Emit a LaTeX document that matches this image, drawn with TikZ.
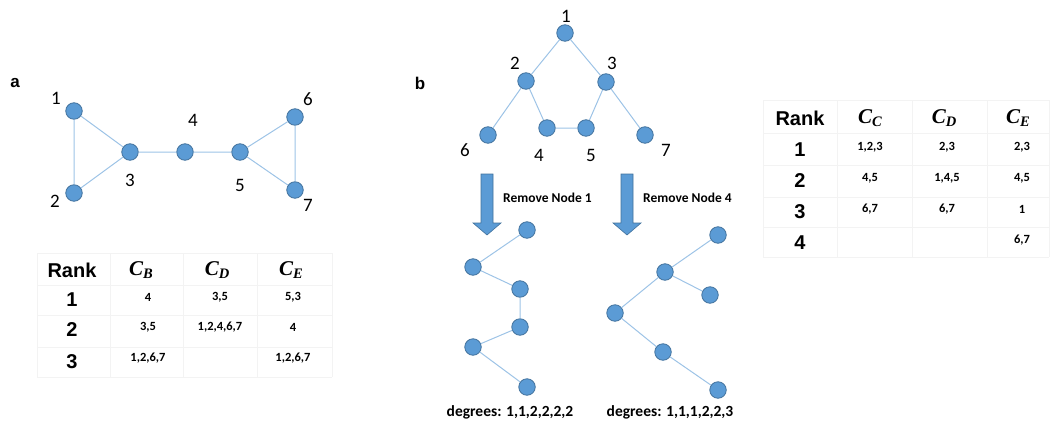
\documentclass[tikz,border=0pt]{standalone}
\usepackage{fontspec}
\setmainfont{Carlito}
\newfontfamily\arialfont{Liberation Sans}
\newfontfamily\cfont{Liberation Serif}
\usetikzlibrary{positioning}
\definecolor{nodeblue}{RGB}{91,155,213}
\definecolor{nodeline}{RGB}{65,113,156}
\definecolor{edgeblue}{RGB}{157,195,230}
\definecolor{gridgray}{RGB}{243,243,243}
\tikzset{
  vert/.style={circle, fill=nodeblue, draw=nodeline, line width=0.8pt, minimum size=16.5pt, inner sep=0pt},
  edge/.style={draw=edgeblue, line width=1pt},
  lbl/.style={font=\fontsize{19}{19}\selectfont, inner sep=0pt},
  panel/.style={font=\arialfont\bfseries\fontsize{17}{17}\selectfont, inner sep=0pt},
  head/.style={font=\arialfont\bfseries\fontsize{20}{20}\selectfont, inner sep=0pt},
  cell/.style={font=\bfseries\fontsize{12.5}{13}\selectfont, inner sep=0pt},
  cvar/.style={font=\cfont\bfseries\itshape\fontsize{21}{21}\selectfont, inner sep=0pt},
  note/.style={font=\bfseries\fontsize{13.5}{14}\selectfont, inner sep=0pt},
  degs/.style={font=\bfseries\fontsize{15.5}{16}\selectfont, inner sep=0pt},
  grid/.style={draw=gridgray, line width=0.8pt},
  blockarrow/.style={fill=nodeblue, draw=nodeline, line width=0.6pt}
}
\newcommand{\cv}[1]{C\raisebox{-0.35ex}{\fontsize{14.5}{14.5}\selectfont #1}}
\begin{document}
\begin{tikzpicture}[x=1pt, y=-1pt]
  \useasboundingbox (0,0) rectangle (1051,423);

  % panel a: graph
  \node[panel] at (15,83) {a};
  \node[vert] (a1) at (74,111) {};
  \node[vert] (a2) at (74,193) {};
  \node[vert] (a3) at (130,152) {};
  \node[vert] (a4) at (185,152) {};
  \node[vert] (a5) at (240,152) {};
  \node[vert] (a6) at (295,117) {};
  \node[vert] (a7) at (295,190) {};
  \path[edge] (a1) -- (a2) (a1) -- (a3) (a2) -- (a3) (a3) -- (a4)
              (a4) -- (a5) (a5) -- (a6) (a5) -- (a7) (a6) -- (a7);
  \node[lbl] at (56,98) {1};
  \node[lbl] at (55,201) {2};
  \node[lbl] at (130,180) {3};
  \node[lbl] at (193,120) {4};
  \node[lbl] at (240,185) {5};
  \node[lbl] at (308,99) {6};
  \node[lbl] at (308,205) {7};

  % panel a: table
  \foreach \y in {253,285,315,347,377} \draw[grid] (37,\y) -- (332,\y);
  \foreach \x in {37,110,183,257,332} \draw[grid] (\x,253) -- (\x,377);
  \node[head] at (72,270) {Rank};
  \node[cvar] at (141,270) {\cv{B}};
  \node[cvar] at (217,270) {\cv{D}};
  \node[cvar] at (291,270) {\cv{E}};
  \node[head] at (72,300) {1};
  \node[head] at (72,330) {2};
  \node[head] at (72,362) {3};
  \node[cell] at (148,297) {4};
  \node[cell] at (220,297) {3,5};
  \node[cell] at (293,297) {5,3};
  \node[cell] at (148,327) {3,5};
  \node[cell] at (220,327) {1,2,4,6,7};
  \node[cell] at (293,327) {4};
  \node[cell] at (148,358) {1,2,6,7};
  \node[cell] at (293,358) {1,2,6,7};

  % panel b: graph
  \node[panel] at (420,83) {b};
  \node[vert] (b1) at (565,33) {};
  \node[vert] (b2) at (526,81) {};
  \node[vert] (b3) at (606,82) {};
  \node[vert] (b4) at (547,128) {};
  \node[vert] (b5) at (586,128) {};
  \node[vert] (b6) at (488,135) {};
  \node[vert] (b7) at (645,135) {};
  \path[edge] (b1) -- (b2) (b1) -- (b3) (b2) -- (b6) (b2) -- (b4)
              (b4) -- (b5) (b5) -- (b3) (b3) -- (b7);
  \node[lbl] at (566,16) {1};
  \node[lbl] at (515,63) {2};
  \node[lbl] at (612,63) {3};
  \node[lbl] at (539,155) {4};
  \node[lbl] at (591,155) {5};
  \node[lbl] at (465,150) {6};
  \node[lbl] at (666,150) {7};

  % arrows
  \draw[blockarrow] (481,174) -- (493,174) -- (493,223) -- (501,223) -- (487,235)
    -- (473,223) -- (481,223) -- cycle;
  \draw[blockarrow] (621,174) -- (633,174) -- (633,223) -- (641,223) -- (627,235)
    -- (613,223) -- (621,223) -- cycle;
  \node[note, anchor=west] at (503,198) {Remove Node 1};
  \node[note, anchor=west] at (643,198) {Remove Node 4};

  % after removing node 1
  \node[vert] (l1) at (527,230) {};
  \node[vert] (l2) at (473,267) {};
  \node[vert] (l3) at (520,289) {};
  \node[vert] (l4) at (520,327) {};
  \node[vert] (l5) at (473,347) {};
  \node[vert] (l6) at (527,387) {};
  \path[edge] (l1) -- (l2) -- (l3) -- (l4) -- (l5) -- (l6);
  \node[degs] at (510,412) {degrees: 1,1,2,2,2,2};

  % after removing node 4
  \node[vert] (r1) at (718,235) {};
  \node[vert] (r2) at (665,272) {};
  \node[vert] (r3) at (710,295) {};
  \node[vert] (r4) at (615,313) {};
  \node[vert] (r5) at (663,352) {};
  \node[vert] (r6) at (718,390) {};
  \path[edge] (r1) -- (r2) (r2) -- (r3) (r2) -- (r4) (r4) -- (r5) (r5) -- (r6);
  \node[degs] at (670,412) {degrees: 1,1,1,2,2,3};

  % panel b: table
  \foreach \y in {100,133,165,197,227,257} \draw[grid] (763,\y) -- (1049,\y);
  \foreach \x in {763,837,912,987,1049} \draw[grid] (\x,100) -- (\x,257);
  \node[head] at (800,118) {Rank};
  \node[cvar] at (870,118) {\cv{C}};
  \node[cvar] at (944,118) {\cv{D}};
  \node[cvar] at (1018,118) {\cv{E}};
  \node[head] at (800,150) {1};
  \node[head] at (800,181) {2};
  \node[head] at (800,212) {3};
  \node[head] at (800,243) {4};
  \node[cell] at (870,147) {1,2,3};
  \node[cell] at (947,147) {2,3};
  \node[cell] at (1022,147) {2,3};
  \node[cell] at (870,178) {4,5};
  \node[cell] at (947,178) {1,4,5};
  \node[cell] at (1022,178) {4,5};
  \node[cell] at (870,209) {6,7};
  \node[cell] at (947,209) {6,7};
  \node[cell] at (1022,209) {1};
  \node[cell] at (1022,240) {6,7};
\end{tikzpicture}
\end{document}
